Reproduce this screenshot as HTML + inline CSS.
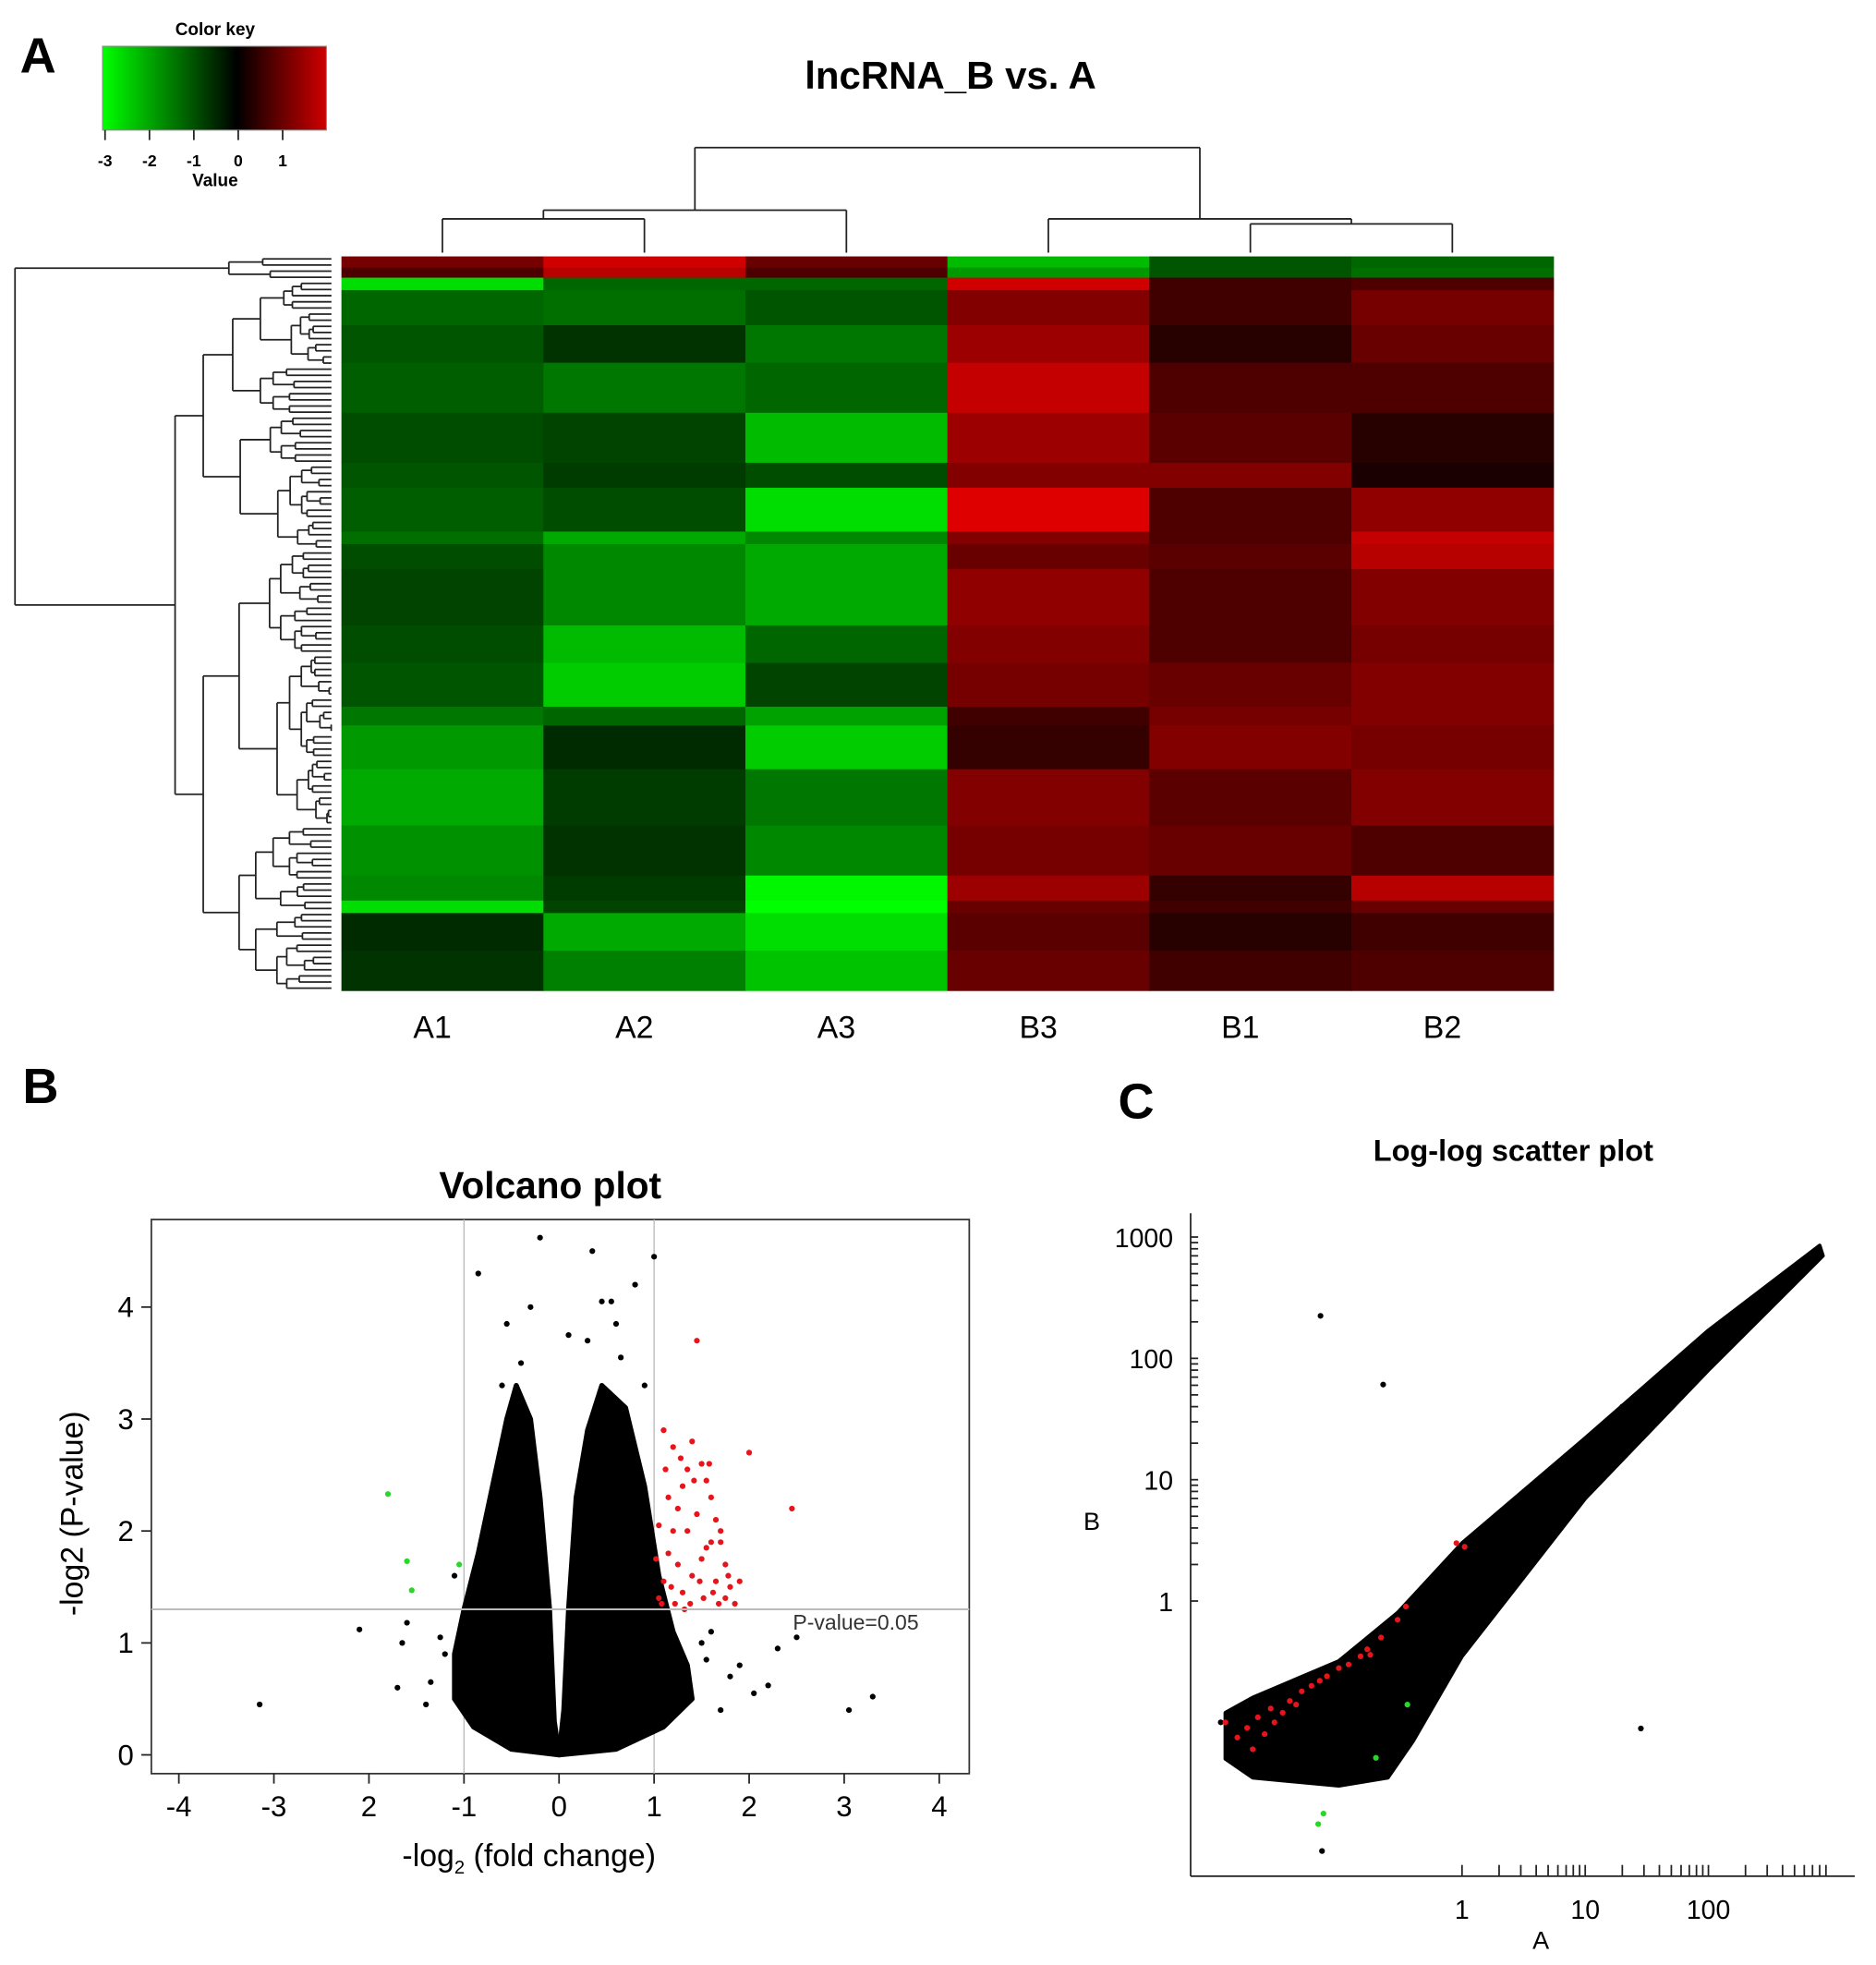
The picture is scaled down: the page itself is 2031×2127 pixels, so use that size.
<!DOCTYPE html>
<html><head><meta charset="utf-8"><style>
html,body{margin:0;padding:0;background:#fff}
svg{display:block;font-family:"Liberation Sans",Arial,sans-serif}
</style></head><body>
<svg id="fig" width="2031" height="2127" viewBox="0 0 1500 1571" preserveAspectRatio="none" xmlns="http://www.w3.org/2000/svg">
<rect width="1500" height="1571" fill="#fff"/>
<g id="heat"></g>
<g id="volc"></g>
<g id="logp"></g>
</svg>
<script>
// ---------- Heatmap data ----------
const heatCols=["A1","A2","A3","B3","B1","B2"];
const heatBandTop=[205,214,222,232,260,290,330,370,390,425,435,455,500,530,565,580,615,660,700,720,730,760];
const heatA1=[0.9,0.6,-2.6,-1.2,-1.0,-1.1,-0.9,-1.0,-1.1,-1.3,-0.9,-0.8,-0.9,-1.0,-1.4,-1.8,-2.0,-1.7,-1.6,-2.6,-0.5,-0.6];
const heatA2=[1.6,1.4,-1.2,-1.3,-0.6,-1.4,-0.8,-0.7,-0.9,-2.0,-1.6,-1.6,-2.2,-2.4,-1.2,-0.5,-0.7,-0.6,-0.7,-0.8,-2.0,-1.5];
const heatA3=[0.8,0.6,-1.2,-1.0,-1.4,-1.2,-2.2,-0.9,-2.6,-1.6,-2.0,-2.0,-1.2,-0.8,-1.9,-2.4,-1.4,-1.6,-2.9,-3.0,-2.6,-2.3];
const heatB3=[-2.2,-1.8,1.6,1.0,1.2,1.5,1.2,1.0,1.7,1.0,0.8,1.1,1.0,0.9,0.5,0.4,1.0,0.9,1.2,0.8,0.7,0.8];
const heatB1=[-1.0,-1.0,0.5,0.5,0.3,0.6,0.7,1.0,0.6,0.6,0.7,0.6,0.6,0.8,0.9,1.0,0.7,0.8,0.4,0.5,0.3,0.5];
const heatB2=[-1.2,-1.3,0.6,0.9,0.8,0.6,0.3,0.2,1.1,1.5,1.4,1.0,0.9,1.0,1.0,0.9,1.0,0.6,1.4,0.8,0.5,0.6];
const keyTicks=[-3,-2,-1,0,1];

// ---------- Volcano data ----------
const volXTicks=[-4,-3,-2,-1,0,1,2,3,4];
const volXTickLabels=["-4","-3","2","-1","0","1","2","3","4"];
const volYTicks=[0,1,2,3,4];
const volLeftLobeX=[0,-0.05,-0.1,-0.2,-0.3,-0.45,-0.55,-0.7,-0.85,-1.0,-1.1,-1.1,-0.9,-0.5];
const volLeftLobeY=[0,0.3,1.3,2.3,3.0,3.3,3.0,2.4,1.8,1.3,0.9,0.5,0.25,0.05];
const volRightLobeX=[0,0.05,0.1,0.18,0.3,0.45,0.7,0.9,1.05,1.2,1.35,1.4,1.1,0.6];
const volRightLobeY=[0,0.4,1.3,2.3,2.9,3.3,3.1,2.4,1.6,1.1,0.8,0.5,0.25,0.05];
const volBlackX=[-3.15,-2.1,-1.65,-1.7,-1.6,3.05,3.3,2.5,2.3,2.05,1.8,1.9,1.6,-0.2,0.35,1.0,-0.85,0.8,-0.3,0.45,0.55,-0.55,0.6,-0.6,0.3,-1.2,-1.35,-1.25,-1.4,1.55,1.7,2.2,1.5,-1.1,0.9,-0.4,0.1,0.65];
const volBlackY=[0.45,1.12,1.0,0.6,1.18,0.4,0.52,1.05,0.95,0.55,0.7,0.8,1.1,4.62,4.5,4.45,4.3,4.2,4.0,4.05,4.05,3.85,3.85,3.3,3.7,0.9,0.65,1.05,0.45,0.85,0.4,0.62,1.0,1.6,3.3,3.5,3.75,3.55];
const volRedX=[1.45,2.45,2.0,1.05,1.1,1.15,1.2,1.25,1.3,1.35,1.4,1.5,1.55,1.6,1.65,1.7,1.75,1.8,1.85,1.1,1.2,1.3,1.4,1.5,1.6,1.7,1.05,1.15,1.25,1.35,1.45,1.55,1.65,1.75,1.08,1.22,1.38,1.52,1.68,1.12,1.28,1.42,1.58,1.9,1.02,1.18,1.32,1.48,1.62,1.78];
const volRedY=[3.7,2.2,2.7,1.4,1.55,1.8,2.0,2.2,2.4,2.55,2.8,2.6,2.45,2.3,2.1,1.9,1.7,1.5,1.35,2.9,2.75,1.45,1.6,1.75,1.9,2.0,2.05,2.3,1.7,2.0,2.15,1.85,1.55,1.4,1.35,1.35,1.35,1.4,1.35,2.55,2.65,2.45,2.6,1.55,1.75,1.5,1.3,1.55,1.45,1.6];
const volGreenX=[-1.8,-1.6,-1.55,-1.05];
const volGreenY=[2.33,1.73,1.47,1.7];

// ---------- Log-log data ----------
const logYTicks=[1,10,100,1000];
const logXTicks=[1,10,100];
const logCloudA=[0.012,0.02,0.1,0.3,1,10,100,800,850,100,10,1,0.4,0.25,0.1,0.02,0.012];
const logCloudB=[0.12,0.16,0.32,0.8,3,22,170,850,700,80,7,0.35,0.07,0.035,0.03,0.035,0.05];
const logBlackA=[0.071,0.229,28.3,0.073,0.011,0.016,0.04,0.06,0.095,0.12,0.43,150,50,20];
const logBlackB=[224,60.8,0.089,0.0087,0.1,0.07,0.2,0.23,0.18,0.3,0.16,220,80,40];
const logRedA=[0.9,1.05,0.012,0.015,0.018,0.02,0.022,0.025,0.028,0.03,0.035,0.04,0.045,0.05,0.06,0.07,0.08,0.1,0.12,0.15,0.18,0.22,0.3,0.35,0.17];
const logRedB=[3.0,2.8,0.1,0.075,0.09,0.06,0.11,0.08,0.13,0.1,0.12,0.15,0.14,0.18,0.2,0.22,0.24,0.28,0.3,0.35,0.36,0.5,0.7,0.9,0.4];
const logGreenA=[0.068,0.075,0.2,0.36];
const logGreenB=[0.0145,0.0177,0.051,0.14];

const NS="http://www.w3.org/2000/svg";
function mk(parent,tag,attrs,text){const e=document.createElementNS(NS,tag);for(const k in attrs)e.setAttribute(k,attrs[k]);if(text!==undefined)e.textContent=text;parent.appendChild(e);return e;}

// ===== Heatmap =====
const H=document.getElementById('heat');
const hx0=273,hx1=1242,hy0=205,hy1=792,cw=(hx1-hx0)/heatCols.length;
function hcol(v){if(v<0){const t=Math.min(1,-v/3);return `rgb(0,${Math.round(255*t)},0)`;}const t=Math.min(1,v/1.8);return `rgb(${Math.round(235*t)},0,0)`;}
const heatVals=[heatA1,heatA2,heatA3,heatB3,heatB1,heatB2];
heatVals.forEach((arr,c)=>{arr.forEach((v,i)=>{const y0=heatBandTop[i],y1=i+1<heatBandTop.length?heatBandTop[i+1]:hy1;
const r=mk(H,'rect',{x:hx0+c*cw,y:y0,width:cw+0.5,height:y1-y0+0.3,fill:hcol(v)});

});});
heatCols.forEach((n,c)=>{const t=mk(H,'text',{x:hx0+c*cw+cw/2-8,y:830,'font-size':25,'text-anchor':'middle'},n);

});
const title=mk(H,'text',{x:760,y:71,'font-size':31,'font-weight':'bold','text-anchor':'middle'},'lncRNA_B vs. A');


const la=mk(H,'text',{x:16,y:58,'font-size':40,'font-weight':'bold'},'A');


const ln=(g,x1,y1,x2,y2)=>mk(g,'line',{x1,y1,x2,y2,stroke:'#222','stroke-width':1.3});
const cd=mk(H,'g',{});
const cxs=heatCols.map((_,c)=>hx0+c*cw+cw/2);
ln(cd,cxs[0],175,cxs[1],175);ln(cd,cxs[0],175,cxs[0],202);ln(cd,cxs[1],175,cxs[1],202);
const m01=(cxs[0]+cxs[1])/2;ln(cd,m01,168,cxs[2],168);ln(cd,m01,168,m01,175);ln(cd,cxs[2],168,cxs[2],202);
ln(cd,cxs[4],179,cxs[5],179);ln(cd,cxs[4],179,cxs[4],202);ln(cd,cxs[5],179,cxs[5],202);
const m45=(cxs[4]+cxs[5])/2;ln(cd,cxs[3],175,m45,175);ln(cd,cxs[3],175,cxs[3],202);ln(cd,m45,175,m45,179);
const mA=(m01+cxs[2])/2,mB=(cxs[3]+m45)/2;ln(cd,mA,118,mB,118);ln(cd,mA,118,mA,168);ln(cd,mB,118,mB,175);
const rd=mk(H,'g',{});
const nLeaf=120,ly0=207,lsp=(790-207)/(nLeaf-1),leafX=265;
function tree(lo,hi,x,depth){
 if(lo===hi){return ly0+lo*lsp;}
 const mid=Math.floor((lo+hi)/2+((depth*7)%3-1)*(hi-lo)*0.12);
 const m=Math.max(lo,Math.min(hi-1,mid));
 const nx=x+(leafX-x)*(0.18+((depth*5)%4)*0.05);
 const xa=(m===lo)?leafX:nx,xb=(m+1===hi)?leafX:nx+((depth%2)?6:0);
 const ya=tree(lo,m,xa,depth+1),yb=tree(m+1,hi,xb,depth+2);
 ln(rd,x,ya,xa,ya);ln(rd,x,yb,xb,yb);ln(rd,x,ya,x,yb);
 return (ya+yb)/2;}
const yTop=tree(0,3,183,3);
const yLow=tree(4,nLeaf-1,140,0);
ln(rd,12,yTop,183,yTop);ln(rd,12,yLow,140,yLow);ln(rd,12,yTop,12,yLow);
const kg=mk(H,'g',{});
const defs=mk(kg,'defs',{});const gr=mk(defs,'linearGradient',{id:'kgrad',x1:0,x2:1,y1:0,y2:0});
mk(gr,'stop',{offset:'0','stop-color':'#00ff00'});mk(gr,'stop',{offset:'0.6','stop-color':'#000'});mk(gr,'stop',{offset:'1','stop-color':'#d00000'});
mk(kg,'rect',{x:82,y:37,width:179,height:67,fill:'url(#kgrad)',stroke:'#888','stroke-width':0.8});
const kx=v=>84+(v+3)*35.5;
keyTicks.forEach(v=>{ln(kg,kx(v),104,kx(v),112);const t=mk(kg,'text',{x:kx(v),y:133,'font-size':13,'font-weight':'bold','text-anchor':'middle'},String(v));});
mk(kg,'text',{x:172,y:28,'font-size':14,'font-weight':'bold','text-anchor':'middle'},'Color key');
mk(kg,'text',{x:172,y:149,'font-size':14,'font-weight':'bold','text-anchor':'middle'},'Value');

// ===== Volcano =====
const V=document.getElementById('volc');
const vx=v=>447+v*76, vy=v=>1403-v*89.5;
const fr=mk(V,'rect',{x:121,y:975,width:654,height:443,fill:'none',stroke:'#333','stroke-width':1.3});
mk(V,'line',{x1:vx(-1),y1:975,x2:vx(-1),y2:1418,stroke:'#bbb','stroke-width':1});
mk(V,'line',{x1:vx(1),y1:975,x2:vx(1),y2:1418,stroke:'#bbb','stroke-width':1});
const lobe=(X,Y,nm)=>{const p=mk(V,'polygon',{points:X.map((x,i)=>vx(x)+','+vy(Y[i])).join(' '),fill:'#000',stroke:'#000','stroke-width':4,'stroke-linejoin':'round'});};
lobe(volLeftLobeX,volLeftLobeY,'volcano-cloud-left');lobe(volRightLobeX,volRightLobeY,'volcano-cloud-right');
const dot=(g,x,y,c,nm)=>{const d=mk(g,'circle',{cx:x,cy:y,r:2.3,fill:c});};
volBlackX.forEach((x,i)=>dot(V,vx(x),vy(volBlackY[i]),'#000','volcano-point'));
volRedX.forEach((x,i)=>dot(V,vx(x),vy(volRedY[i]),'#e8141b','volcano-up-point'));
volGreenX.forEach((x,i)=>dot(V,vx(x),vy(volGreenY[i]),'#26d926','volcano-down-point'));
mk(V,'line',{x1:121,y1:vy(1.3),x2:775,y2:vy(1.3),stroke:'#bbb','stroke-width':1.5});
const pv=mk(V,'text',{x:634,y:1303,'font-size':17,fill:'#333'},'P-value=0.05');
volXTicks.forEach((v,i)=>{ln(V,vx(v),1418,vx(v),1426);const t=mk(V,'text',{x:vx(v),y:1452,'font-size':23,'text-anchor':'middle'},volXTickLabels[i]);});
volYTicks.forEach(v=>{ln(V,113,vy(v),121,vy(v));const t=mk(V,'text',{x:107,y:vy(v)+8,'font-size':23,'text-anchor':'end'},String(v));});
const vt=mk(V,'text',{x:440,y:958,'font-size':30,'font-weight':'bold','text-anchor':'middle'},'Volcano plot');
const yl=mk(V,'text',{x:0,y:0,'font-size':25,'text-anchor':'middle',transform:'translate(66,1210) rotate(-90)'},'-log2 (P-value)');
const xl=mk(V,'text',{x:423,y:1492,'font-size':25,'text-anchor':'middle'});
xl.innerHTML='-log<tspan font-size="15" dy="6">2</tspan><tspan dy="-6"> (fold change)</tspan>';
const lb=mk(V,'text',{x:18,y:882,'font-size':40,'font-weight':'bold'},'B');

// ===== Log-log =====
const L=document.getElementById('logp');
const lx=a=>1169+Math.log10(a)*98.5, lyf=b=>1280-Math.log10(b)*97;
ln(L,952,970,952,1500);ln(L,952,1500,1483,1500);
const cl=mk(L,'polygon',{points:logCloudA.map((a,i)=>lx(a)+','+lyf(logCloudB[i])).join(' '),fill:'#000',stroke:'#000','stroke-width':3,'stroke-linejoin':'round'});
logBlackA.forEach((a,i)=>dot(L,lx(a),lyf(logBlackB[i]),'#000','loglog-point'));
logRedA.forEach((a,i)=>dot(L,lx(a),lyf(logRedB[i]),'#e8141b','loglog-up-point'));
logGreenA.forEach((a,i)=>dot(L,lx(a),lyf(logGreenB[i]),'#26d926','loglog-down-point'));
logYTicks.forEach(v=>{const t=mk(L,'text',{x:938,y:lyf(v)+8,'font-size':21,'text-anchor':'end'},String(v));
 if(v<1000)for(let k=1;k<10;k++){const y=lyf(v*k);ln(L,952,y,958,y);} else ln(L,952,lyf(v),958,lyf(v));});
logXTicks.forEach(v=>{const t=mk(L,'text',{x:lx(v),y:1534,'font-size':21,'text-anchor':'middle'},String(v));
 for(let k=1;k<10;k++){const x=lx(v*k);if(x<=1483)ln(L,x,1491,x,1500);}});
const lt=mk(L,'text',{x:1210,y:928,'font-size':24,'font-weight':'bold','text-anchor':'middle'},'Log-log scatter plot');
const bl=mk(L,'text',{x:873,y:1223,'font-size':20,'text-anchor':'middle'},'B');
const al=mk(L,'text',{x:1232,y:1558,'font-size':20,'text-anchor':'middle'},'A');
const lc=mk(L,'text',{x:894,y:894,'font-size':40,'font-weight':'bold'},'C');
</script>
</body></html>
